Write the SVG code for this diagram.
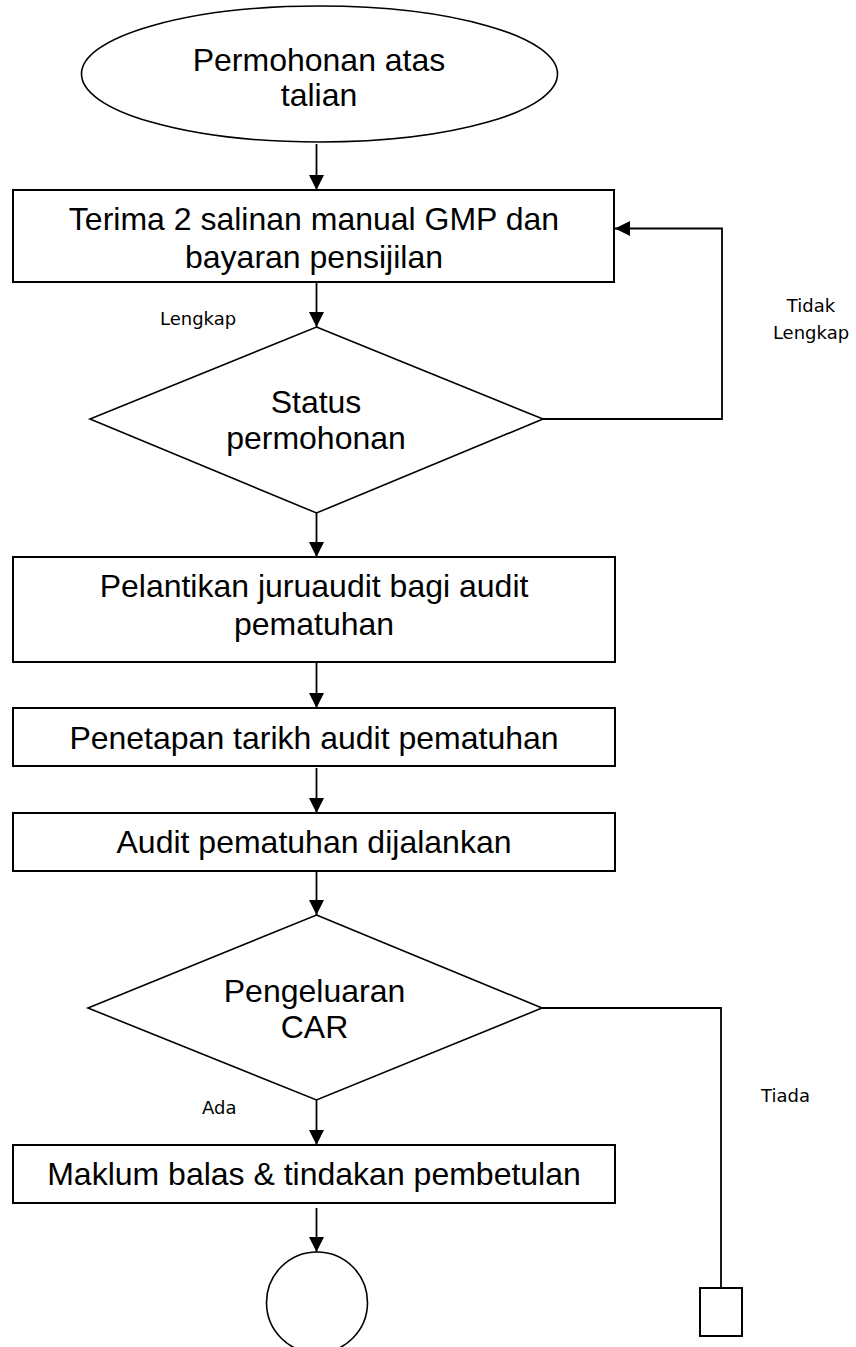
<svg xmlns="http://www.w3.org/2000/svg" width="856" height="1347" viewBox="0 0 856 1347">
  <style>
    .shape { fill: #ffffff; stroke: #000000; stroke-width: 2; }
    .thin { fill: #ffffff; stroke: #000000; stroke-width: 1.6; }
    .conn { fill: none; stroke: #000000; stroke-width: 1.8; }
    .main { font-family: "Liberation Sans", Arial, sans-serif; font-size: 32px; fill: #000000; text-anchor: middle; }
    .lbl { font-family: "DejaVu Sans", Verdana, sans-serif; font-size: 18px; fill: #000000; }
  </style>
  <defs>
    <marker id="arrow" markerUnits="userSpaceOnUse" markerWidth="15" markerHeight="15" refX="15" refY="7.5" orient="auto">
      <path d="M0,0 L15,7.5 L0,15 z" fill="#000000"/>
    </marker>
  </defs>
  <rect width="856" height="1347" fill="#ffffff"/>

  <g id="connectors">
    <line class="conn" x1="316.5" y1="144" x2="316.5" y2="190" marker-end="url(#arrow)"/>
    <line class="conn" x1="316.5" y1="282" x2="316.5" y2="327" marker-end="url(#arrow)"/>
    <polyline class="conn" points="543,419 722,419 722,228.5 615,228.5" marker-end="url(#arrow)"/>
    <line class="conn" x1="316.5" y1="513" x2="316.5" y2="557" marker-end="url(#arrow)"/>
    <line class="conn" x1="316.5" y1="662" x2="316.5" y2="708" marker-end="url(#arrow)"/>
    <line class="conn" x1="316.5" y1="768" x2="316.5" y2="813" marker-end="url(#arrow)"/>
    <line class="conn" x1="316.5" y1="871" x2="316.5" y2="915" marker-end="url(#arrow)"/>
    <polyline class="conn" points="542,1008 721,1008 721,1288"/>
    <line class="conn" x1="316.5" y1="1100" x2="316.5" y2="1145" marker-end="url(#arrow)"/>
    <line class="conn" x1="316.5" y1="1208" x2="316.5" y2="1252" marker-end="url(#arrow)"/>
    <text class="lbl" x="160" y="325">Lengkap</text>
    <text class="lbl" x="811" y="312" text-anchor="middle">Tidak</text>
    <text class="lbl" x="811" y="339" text-anchor="middle">Lengkap</text>
    <text class="lbl" x="202" y="1114">Ada</text>
    <text class="lbl" x="761" y="1102">Tiada</text>
  </g>

  <g id="start">
    <ellipse class="thin" cx="319.5" cy="74" rx="238" ry="68"/>
    <text class="main" x="319" y="71">Permohonan atas</text>
    <text class="main" x="319" y="106">talian</text>
  </g>

  <g id="terima">
    <rect class="shape" x="13" y="190" width="601" height="92"/>
    <text class="main" x="314" y="230">Terima 2 salinan manual GMP dan</text>
    <text class="main" x="314" y="268">bayaran pensijilan</text>
  </g>

  <g id="status">
    <polygon class="thin" points="316.5,327 543,419 316.5,513 90,419"/>
    <text class="main" x="316" y="413">Status</text>
    <text class="main" x="316" y="449">permohonan</text>
  </g>

  <g id="pelantikan">
    <rect class="shape" x="13" y="557" width="602" height="105"/>
    <text class="main" x="314" y="597">Pelantikan juruaudit bagi audit</text>
    <text class="main" x="314" y="635">pematuhan</text>
  </g>

  <g id="penetapan">
    <rect class="shape" x="13" y="708" width="602" height="58"/>
    <text class="main" x="314" y="749">Penetapan tarikh audit pematuhan</text>
  </g>

  <g id="audit">
    <rect class="shape" x="13" y="813" width="602" height="58"/>
    <text class="main" x="314" y="853">Audit pematuhan dijalankan</text>
  </g>

  <g id="car">
    <polygon class="thin" points="316.5,915 542,1008 316.5,1100 88,1008"/>
    <text class="main" x="314.5" y="1002">Pengeluaran</text>
    <text class="main" x="314.5" y="1038">CAR</text>
  </g>

  <g id="maklum">
    <rect class="shape" x="13" y="1145" width="602" height="58"/>
    <text class="main" x="314" y="1185">Maklum balas &amp; tindakan pembetulan</text>
  </g>

  <g id="end-circle">
    <circle class="thin" cx="317" cy="1302.5" r="50.5"/>
  </g>

  <g id="end-box">
    <rect class="shape" x="700" y="1288" width="42" height="48"/>
  </g>
</svg>
